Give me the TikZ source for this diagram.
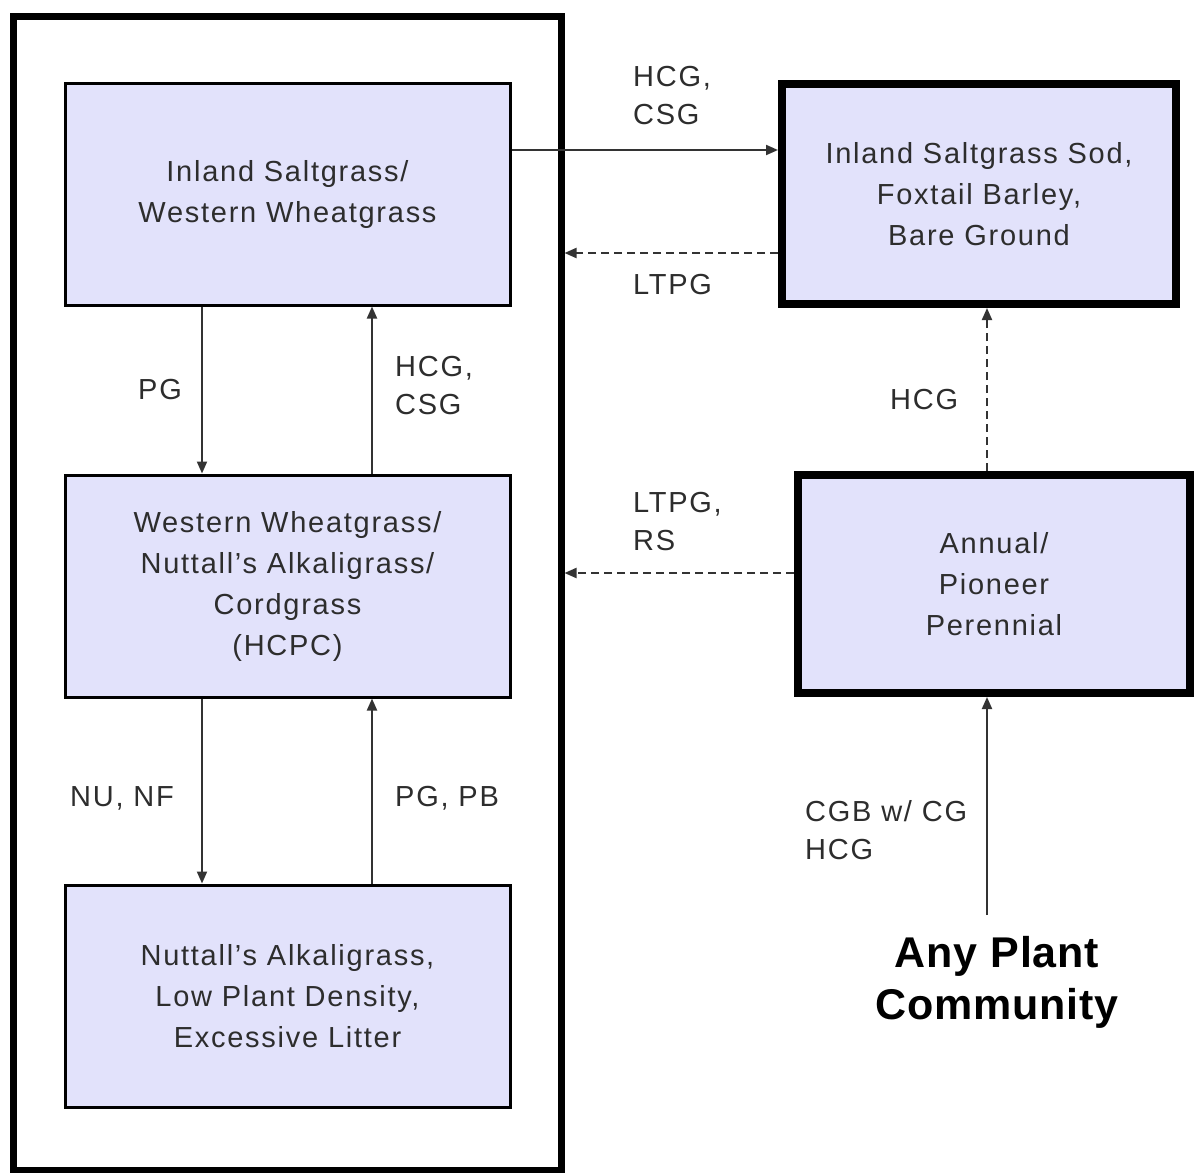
\documentclass[tikz,border=0pt]{standalone}
\usepackage{fontspec}
\setmainfont{Liberation Sans}[LetterSpace=6]
\newfontfamily\anyfont{Liberation Sans}[LetterSpace=2]
\usetikzlibrary{arrows.meta}
\definecolor{boxfill}{RGB}{226,226,251}
\definecolor{ink}{RGB}{45,45,45}

\begin{document}
\begin{tikzpicture}[x=1pt, y=-1pt, >={Triangle[length=12pt, width=10pt]},
	state/.style={draw, line width=3pt, fill=boxfill, minimum width=445pt,
		minimum height=222pt, align=center, text=ink,
		font=\fontsize{29}{41}\selectfont},
	bigstate/.style={state, line width=8pt, minimum width=394pt, minimum height=220pt},
	lbl/.style={anchor=west, inner sep=0pt, align=left, text=ink,
		font=\fontsize{29}{38}\selectfont},
	link/.style={->, line width=2pt, draw=black!80},
	dlink/.style={link, dash pattern=on 8pt off 5pt}]
	\useasboundingbox (0,0) rectangle (1195,1173);

	% Rows and columns of the connectors
	\coordinate (row1) at (0,150);		% top solid arrow
	\coordinate (row2) at (0,253);		% LTPG arrow
	\coordinate (row3) at (0,573);		% LTPG, RS arrow
	\coordinate (col1) at (202,0);		% down arrows
	\coordinate (col2) at (372,0);		% up arrows
	\coordinate (col3) at (987,0);		% right column
	\coordinate (start) at (987,915);	% foot of the bottom arrow

	% Outer frame
	\node[draw, line width=7pt, minimum width=548pt, minimum height=1154pt] (group) at (287,593) {};

	% States inside the frame
	\node[state] (salt) at (287.5,194) {Inland Saltgrass/\\Western Wheatgrass};
	\node[state] (hcpc) at (287.5,586) {Western Wheatgrass/\\Nuttall's Alkaligrass/\\Cordgrass\\(HCPC)};
	\node[state] (litter) at (287.5,996) {Nuttall's Alkaligrass,\\Low Plant Density,\\Excessive Litter};

	% States outside the frame
	\node[bigstate] (sod) at (979,194) {Inland Saltgrass Sod,\\Foxtail Barley,\\Bare Ground};
	\node[bigstate, minimum width=392pt, minimum height=218pt] (annual) at (994,584) {Annual/\\Pioneer\\Perennial};
	\node[text=black, align=center, font=\anyfont\bfseries\fontsize{43}{52}\selectfont] (any) at (997,982) {Any Plant\\Community};

	% Connectors
	\draw[link] (salt.east |- row1) -- (sod.west |- row1);
	\draw[dlink] (sod.west |- row2) -- (group.east |- row2);
	\draw[link] (salt.south -| col1) -- (hcpc.north -| col1);
	\draw[link] (hcpc.north -| col2) -- (salt.south -| col2);
	\draw[link] (hcpc.south -| col1) -- (litter.north -| col1);
	\draw[link] (litter.north -| col2) -- (hcpc.south -| col2);
	\draw[dlink] (annual.west |- row3) -- (group.east |- row3);
	\draw[dlink] (annual.north -| col3) -- (sod.south -| col3);
	\draw[link] (start) -- (annual.south -| col3);

	% Labels
	\node[lbl] (lhcg) at (633,96) {HCG,\\CSG};
	\node[lbl] (lltpg) at (633,285) {LTPG};
	\node[lbl] (lpg) at (138,390) {PG};
	\node[lbl] (lhcgb) at (395,386) {HCG,\\CSG};
	\node[lbl] (lrs) at (633,522) {LTPG,\\RS};
	\node[lbl] (lhcgc) at (890,400) {HCG};
	\node[lbl] (lnu) at (70,798) {NU, NF};
	\node[lbl] (lpb) at (395,798) {PG, PB};
	\node[lbl] (lcgb) at (805,830) {CGB w/ CG\\HCG};
\end{tikzpicture}
\end{document}
